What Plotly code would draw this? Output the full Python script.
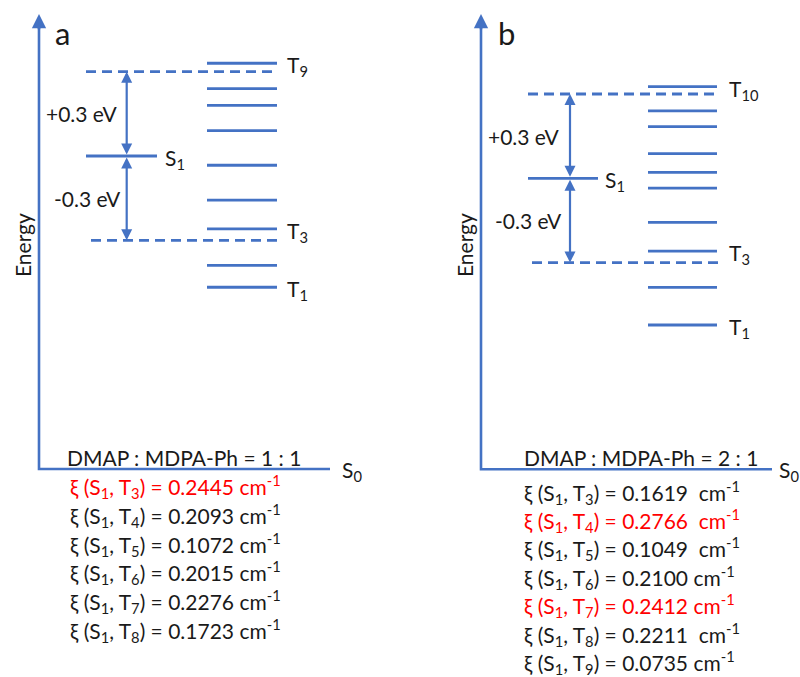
import plotly.graph_objects as go

# ---------------- data ----------------
# Energies relative to S1 (eV)
S1_ENERGY = 0.0
WINDOW_EV = 0.3
triplets_a = [-0.467, -0.389, -0.259, -0.157, -0.033, 0.090, 0.180, 0.240, 0.330]
triplets_b = [-0.522, -0.388, -0.259, -0.157, -0.035, 0.021, 0.088, 0.184, 0.240, 0.326]
labelled_a = [1, 3, 9]
labelled_b = [1, 3, 10]

ratio_a = "DMAP : MDPA-Ph = 1 : 1"
ratio_b = "DMAP : MDPA-Ph = 2 : 1"

xi_states_a = [3, 4, 5, 6, 7, 8]
xi_values_a = [0.2445, 0.2093, 0.1072, 0.2015, 0.2276, 0.1723]
xi_red_a = [3]
xi_states_b = [3, 4, 5, 6, 7, 8, 9]
xi_values_b = [0.1619, 0.2766, 0.1049, 0.2100, 0.2412, 0.2211, 0.0735]
xi_red_b = [4, 7]
xi_gap_b = ["  ", "  ", "  ", " ", " ", "  ", " "]

# ---------------- style / layout ----------------
W, H = 800, 677
BLUE = "#4472C4"
RED = "#FF0000"
INK = "#1a1a1a"
FONT = "Lato"
FS = 21
PX_PER_EV = 281.0

panels = {
    "a": dict(yref="y", s1_px=156.0, axis_x=39, axis_top=14, axis_bottom=469, axis_right=330,
              t_x=(207, 277), s1_x=(86, 157), dash_top_x=(86, 277), dash_bot_x=(91, 280),
              arrow_x=126.7, tl_x=285, s1l_x=163, plus_x=119, minus_x=123,
              letter_x=53, letter="a", energy_x=22, s0_x=340,
              ratio_x=184, ratio_px=457, list_x=68, list_px0=486.7, list_dy=28.7,
              triplets=triplets_a, labelled=labelled_a, ratio=ratio_a,
              states=xi_states_a, values=xi_values_a, red=xi_red_a, gaps=[" "] * 6),
    "b": dict(yref="y2", s1_px=178.3, axis_x=481, axis_top=14, axis_bottom=469.3, axis_right=772,
              t_x=(648, 717), s1_x=(528, 598), dash_top_x=(528, 717), dash_bot_x=(532, 720),
              arrow_x=570, tl_x=727, s1l_x=603, plus_x=561, minus_x=564,
              letter_x=496, letter="b", energy_x=464, s0_x=777,
              ratio_x=641, ratio_px=457.3, list_x=522, list_px0=492.0, list_dy=28.4,
              triplets=triplets_b, labelled=labelled_b, ratio=ratio_b,
              states=xi_states_b, values=xi_values_b, red=xi_red_b, gaps=xi_gap_b),
}

fig = go.Figure()
annotations = []


def seg_trace(ys, x_span, yaxis, dash="solid"):
    X, Y = [], []
    for y in ys:
        X += [x_span[0], x_span[1], None]
        Y += [y, y, None]
    return go.Scatter(x=X, y=Y, mode="lines", yaxis=yaxis, hoverinfo="skip",
                      line=dict(color=BLUE, width=2.8, dash=dash), showlegend=False)


for key, p in panels.items():
    yref = p["yref"]
    yaxis = "y" if yref == "y" else "y2"

    def E(px, p=p):
        return (p["s1_px"] - px) / PX_PER_EV

    # triplet levels
    fig.add_trace(seg_trace(p["triplets"], p["t_x"], yaxis))
    # S1 level
    fig.add_trace(seg_trace([S1_ENERGY], p["s1_x"], yaxis))
    # dashed +/- window
    fig.add_trace(seg_trace([S1_ENERGY + WINDOW_EV], p["dash_top_x"], yaxis, dash="10px,6px"))
    fig.add_trace(seg_trace([S1_ENERGY - WINDOW_EV], p["dash_bot_x"], yaxis, dash="10px,6px"))

    # diagram axes
    ybot = E(p["axis_bottom"])
    ytop = E(p["axis_top"])
    fig.add_trace(go.Scatter(x=[p["axis_x"], p["axis_x"], p["axis_right"]],
                             y=[ytop - 0.02, ybot, ybot], mode="lines", yaxis=yaxis,
                             hoverinfo="skip", showlegend=False,
                             line=dict(color=BLUE, width=2.6)))
    annotations.append(dict(x=p["axis_x"], y=ytop, ax=p["axis_x"], ay=ytop - 0.06,
                            xref="x", yref=yref, axref="x", ayref=yref, text="",
                            showarrow=True, arrowhead=2, arrowsize=1.1, arrowwidth=2.6,
                            arrowcolor=BLUE, standoff=0))

    # double arrows +/-0.3 eV
    for end in (S1_ENERGY + WINDOW_EV, S1_ENERGY - WINDOW_EV):
        annotations.append(dict(x=p["arrow_x"], y=end, ax=p["arrow_x"], ay=S1_ENERGY,
                                xref="x", yref=yref, axref="x", ayref=yref, text="",
                                showarrow=True, arrowhead=2, arrowside="end+start",
                                arrowsize=1.0, arrowwidth=2.2, arrowcolor=BLUE,
                                standoff=0, startstandoff=0))

    txt = dict(font=dict(family=FONT, size=FS, color=INK), showarrow=False, xref="x", yref=yref)
    annotations.append(dict(txt, x=p["plus_x"], y=S1_ENERGY + WINDOW_EV / 2, text="+0.3 eV",
                            xanchor="right", yanchor="middle"))
    annotations.append(dict(txt, x=p["minus_x"], y=S1_ENERGY - WINDOW_EV / 2, text="-0.3 eV",
                            xanchor="right", yanchor="middle"))
    annotations.append(dict(txt, x=p["s1l_x"], y=S1_ENERGY, text="S<sub>1</sub>",
                            xanchor="left", yanchor="middle", yshift=-3))
    for n in p["labelled"]:
        annotations.append(dict(txt, x=p["tl_x"], y=p["triplets"][n - 1],
                                text=f"T<sub>{n}</sub>", xanchor="left", yanchor="middle",
                                yshift=-3))
    annotations.append(dict(txt, x=p["s0_x"], y=ybot, text="S<sub>0</sub>",
                            xanchor="left", yanchor="middle", yshift=-2))
    annotations.append(dict(txt, x=p["letter_x"], y=E(33), text=p["letter"],
                            font=dict(family=FONT, size=31, color=INK),
                            xanchor="left", yanchor="middle"))
    annotations.append(dict(txt, x=p["energy_x"], y=E(245), text="Energy", textangle=-90,
                            xanchor="center", yanchor="middle"))
    annotations.append(dict(txt, x=p["ratio_x"], y=E(p["ratio_px"]), text=p["ratio"],
                            xanchor="center", yanchor="middle"))

    for i, (n, v) in enumerate(zip(p["states"], p["values"])):
        color = RED if n in p["red"] else INK
        gap = p["gaps"][i].replace(" ", "\u00a0")
        annotations.append(dict(txt, x=p["list_x"], y=E(p["list_px0"] + i * p["list_dy"]),
                                text=f"ξ (S<sub>1</sub>, T<sub>{n}</sub>) = {v:.4f}{gap}cm<sup>-1</sup>",
                                font=dict(family=FONT, size=FS, color=color),
                                xanchor="left", yanchor="middle"))

pa, pb = panels["a"], panels["b"]
fig.update_layout(
    width=W, height=H,
    margin=dict(l=0, r=0, t=0, b=0),
    paper_bgcolor="white", plot_bgcolor="white",
    xaxis=dict(range=[0, W], visible=False, domain=[0, 1], fixedrange=True),
    yaxis=dict(range=[-(H - pa["s1_px"]) / PX_PER_EV, pa["s1_px"] / PX_PER_EV],
               visible=False, domain=[0, 1], fixedrange=True),
    yaxis2=dict(range=[-(H - pb["s1_px"]) / PX_PER_EV, pb["s1_px"] / PX_PER_EV],
                visible=False, overlaying="y", fixedrange=True),
    annotations=annotations,
    showlegend=False,
)

fig.write_html("out.html")
